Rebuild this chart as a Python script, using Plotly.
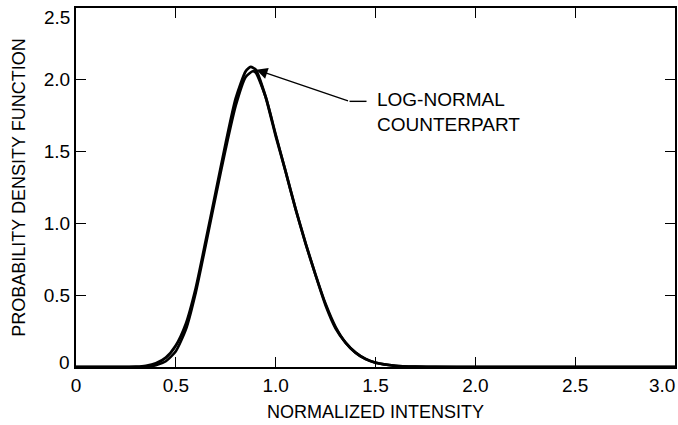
import plotly.graph_objects as go

# Normalized intensity sample points and density readings
x_a = [0.0, 0.2, 0.3, 0.35, 0.40, 0.45, 0.50, 0.55, 0.60, 0.65, 0.70, 0.75, 0.80, 0.85, 0.875,
       0.90, 0.95, 1.00, 1.05, 1.10, 1.15, 1.20, 1.25, 1.30, 1.35, 1.40, 1.45, 1.50, 1.60, 1.70,
       1.80, 2.0, 2.5, 3.0]
y_a = [0.0, 0.0, 0.002, 0.008, 0.025, 0.065, 0.15, 0.30, 0.55, 0.88, 1.22, 1.56, 1.87, 2.06, 2.09,
       2.07, 1.88, 1.61, 1.36, 1.10, 0.86, 0.64, 0.43, 0.27, 0.17, 0.10, 0.055, 0.03, 0.008, 0.002,
       0.0005, 0.0, 0.0, 0.0]

x_b = [0.0, 0.2, 0.3, 0.35, 0.40, 0.45, 0.50, 0.55, 0.60, 0.65, 0.70, 0.75, 0.80, 0.85, 0.885,
       0.90, 0.95, 1.00, 1.05, 1.10, 1.15, 1.20, 1.25, 1.30, 1.35, 1.40, 1.45, 1.50, 1.60, 1.70,
       1.80, 2.0, 2.5, 3.0]
y_b = [0.0, 0.0, 0.0003, 0.002, 0.012, 0.04, 0.11, 0.26, 0.52, 0.85, 1.19, 1.52, 1.82, 2.02, 2.06,
       2.05, 1.88, 1.62, 1.36, 1.10, 0.86, 0.64, 0.44, 0.28, 0.17, 0.10, 0.056, 0.03, 0.009, 0.003,
       0.001, 0.0002, 0.0, 0.0]

x_ticks = [0, 0.5, 1.0, 1.5, 2.0, 2.5, 3.0]
x_tick_labels = ["0", "0.5", "1.0", "1.5", "2.0", "2.5", "3.0"]
y_ticks = [0, 0.5, 1.0, 1.5, 2.0, 2.5]
y_tick_labels = ["0", "0.5", "1.0", "1.5", "2.0", "2.5"]

FONT = "Liberation Sans, Arial, sans-serif"
TICKFONT = dict(family=FONT, size=19, color="black")

fig = go.Figure()
fig.add_trace(go.Scatter(x=x_a, y=y_a, mode="lines",
                         line=dict(color="black", width=2.8, shape="spline", smoothing=0.6),
                         name="LOG-NORMAL COUNTERPART", showlegend=False))
fig.add_trace(go.Scatter(x=x_b, y=y_b, mode="lines",
                         line=dict(color="black", width=2.6, shape="spline", smoothing=0.6),
                         name="DENSITY", showlegend=False))

# arrow pointing to peak
fig.add_annotation(x=0.903, y=2.07, ax=1.37, ay=1.85, xref="x", yref="y", axref="x", ayref="y",
                   text="", showarrow=True, arrowhead=2, arrowsize=1.6, arrowwidth=1.4,
                   arrowcolor="black")
fig.add_shape(type="line", x0=1.37, y0=1.85, x1=1.455, y1=1.85, xref="x", yref="y",
              line=dict(color="black", width=1.4))
fig.add_annotation(x=1.495, y=1.775, xref="x", yref="y", text="LOG-NORMAL<br>COUNTERPART",
                   showarrow=False, xanchor="left", yanchor="middle", align="left",
                   font=dict(family=FONT, size=19, color="black"))

# edge tick labels are nudged inward (as in the reference) so they stay fully visible
x_text = [t if i < len(x_ticks) - 1 else "" for i, t in enumerate(x_tick_labels)]
y_text = [t if 0 < i < len(y_ticks) - 1 else "" for i, t in enumerate(y_tick_labels)]

fig.add_annotation(x=x_ticks[-1], y=0, xref="x", yref="y", text=x_tick_labels[-1],
                   showarrow=False, xanchor="right", yanchor="top", xshift=2, yshift=-6,
                   font=TICKFONT)
fig.add_annotation(x=0, y=y_ticks[-1], xref="x", yref="y", text=y_tick_labels[-1],
                   showarrow=False, xanchor="right", yanchor="middle", xshift=-4, yshift=-9,
                   font=TICKFONT)
fig.add_annotation(x=0, y=y_ticks[0], xref="x", yref="y", text=y_tick_labels[0],
                   showarrow=False, xanchor="right", yanchor="middle", xshift=-4, yshift=5,
                   font=TICKFONT)

axis_common = dict(showline=True, linecolor="black", linewidth=2, mirror="ticks",
                   ticks="inside", ticklen=10, tickwidth=1.3, tickcolor="black",
                   showgrid=False, zeroline=False, ticklabeloverflow="allow",
                   automargin=False, tickfont=TICKFONT)

fig.update_xaxes(range=[-0.00001, 3.00001], tickvals=x_ticks, ticktext=x_text,
                 title=dict(text="NORMALIZED INTENSITY", standoff=11,
                            font=dict(family=FONT, size=18, color="black")),
                 **axis_common)
fig.update_yaxes(range=[-0.00001, 2.50001], tickvals=y_ticks, ticktext=y_text,
                 title=dict(text="PROBABILITY DENSITY FUNCTION", standoff=13,
                            font=dict(family=FONT, size=18, color="black")),
                 **axis_common)

fig.update_layout(width=678, height=425, margin=dict(l=76, r=3, t=8, b=58),
                  plot_bgcolor="white", paper_bgcolor="white", showlegend=False)

fig.write_html("out.html")
